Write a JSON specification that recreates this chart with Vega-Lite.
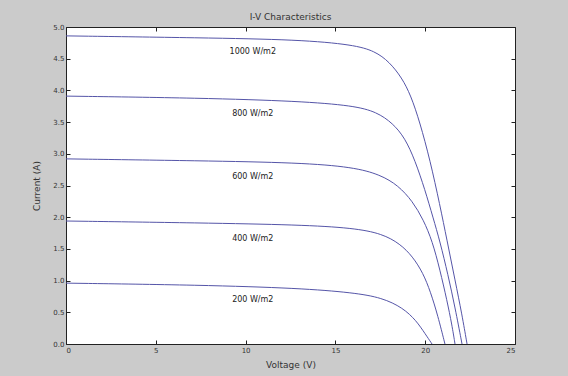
{
  "$schema": "https://vega.github.io/schema/vega-lite/v6.json",
  "width": 449,
  "height": 317,
  "autosize": {"type": "none"},
  "padding": {"left": 66, "top": 27, "right": 53, "bottom": 32},
  "background": "#cbcbcb",
  "config": {
    "view": {"fill": "white", "stroke": "#222", "strokeWidth": 1},
    "font": "DejaVu Sans",
    "axis": {"domainColor": "#222", "tickColor": "#222", "labelColor": "#333", "titleColor": "#333", "labelFontSize": 7, "titleFontSize": 9, "titleFontWeight": "normal", "grid": false, "labelFont": "DejaVu Sans", "titleFont": "DejaVu Sans"}
  },
  "title": {"text": "I-V Characteristics", "fontSize": 9, "fontWeight": "normal", "color": "#333", "offset": 1, "font": "DejaVu Sans"},
  "datasets": {
    "curves": [
      {"curve": "1000", "V": 0, "I": 4.86},
      {"curve": "1000", "V": 7.46, "I": 4.83},
      {"curve": "1000", "V": 13.0, "I": 4.8},
      {"curve": "1000", "V": 16.0, "I": 4.72},
      {"curve": "1000", "V": 17.2, "I": 4.62},
      {"curve": "1000", "V": 18.0, "I": 4.45},
      {"curve": "1000", "V": 18.7, "I": 4.2},
      {"curve": "1000", "V": 19.2, "I": 3.92},
      {"curve": "1000", "V": 19.7, "I": 3.5},
      {"curve": "1000", "V": 20.27, "I": 2.9},
      {"curve": "1000", "V": 20.82, "I": 2.19},
      {"curve": "1000", "V": 21.21, "I": 1.64},
      {"curve": "1000", "V": 21.66, "I": 1.01},
      {"curve": "1000", "V": 22.05, "I": 0.46},
      {"curve": "1000", "V": 22.33, "I": 0},
      {"curve": "800", "V": 0, "I": 3.91},
      {"curve": "800", "V": 7.46, "I": 3.88},
      {"curve": "800", "V": 13.0, "I": 3.83},
      {"curve": "800", "V": 16.0, "I": 3.76},
      {"curve": "800", "V": 17.3, "I": 3.66},
      {"curve": "800", "V": 18.2, "I": 3.48},
      {"curve": "800", "V": 18.87, "I": 3.25},
      {"curve": "800", "V": 19.43, "I": 2.9},
      {"curve": "800", "V": 19.99, "I": 2.43},
      {"curve": "800", "V": 20.44, "I": 1.99},
      {"curve": "800", "V": 20.82, "I": 1.62},
      {"curve": "800", "V": 21.27, "I": 1.09},
      {"curve": "800", "V": 21.66, "I": 0.58},
      {"curve": "800", "V": 22.05, "I": 0},
      {"curve": "600", "V": 0, "I": 2.92},
      {"curve": "600", "V": 7.46, "I": 2.89},
      {"curve": "600", "V": 13.0, "I": 2.86},
      {"curve": "600", "V": 16.0, "I": 2.79},
      {"curve": "600", "V": 17.5, "I": 2.67},
      {"curve": "600", "V": 18.5, "I": 2.5},
      {"curve": "600", "V": 19.3, "I": 2.25},
      {"curve": "600", "V": 19.9, "I": 1.96},
      {"curve": "600", "V": 20.4, "I": 1.62},
      {"curve": "600", "V": 20.82, "I": 1.17},
      {"curve": "600", "V": 21.21, "I": 0.69},
      {"curve": "600", "V": 21.49, "I": 0.3},
      {"curve": "600", "V": 21.66, "I": 0},
      {"curve": "400", "V": 0, "I": 1.94},
      {"curve": "400", "V": 7.46, "I": 1.91},
      {"curve": "400", "V": 13.0, "I": 1.88},
      {"curve": "400", "V": 16.0, "I": 1.83},
      {"curve": "400", "V": 17.6, "I": 1.74},
      {"curve": "400", "V": 18.6, "I": 1.58},
      {"curve": "400", "V": 19.3, "I": 1.38},
      {"curve": "400", "V": 19.88, "I": 1.12},
      {"curve": "400", "V": 20.3, "I": 0.82},
      {"curve": "400", "V": 20.7, "I": 0.45},
      {"curve": "400", "V": 21.1, "I": 0},
      {"curve": "200", "V": 0, "I": 0.96},
      {"curve": "200", "V": 7.46, "I": 0.93},
      {"curve": "200", "V": 13.0, "I": 0.88},
      {"curve": "200", "V": 16.0, "I": 0.81},
      {"curve": "200", "V": 17.6, "I": 0.73},
      {"curve": "200", "V": 18.76, "I": 0.57},
      {"curve": "200", "V": 19.5, "I": 0.37},
      {"curve": "200", "V": 20.0, "I": 0.16},
      {"curve": "200", "V": 20.38, "I": 0}
    ],
    "labels": [
      {"label": "1000 W/m2", "V": 10.4, "I": 4.61},
      {"label": "800 W/m2", "V": 10.4, "I": 3.62},
      {"label": "600 W/m2", "V": 10.4, "I": 2.63},
      {"label": "400 W/m2", "V": 10.4, "I": 1.66},
      {"label": "200 W/m2", "V": 10.4, "I": 0.7}
    ]
  },
  "layer": [
    {
      "data": {"name": "curves"},
      "mark": {"type": "line", "color": "#5555a8", "strokeWidth": 1, "interpolate": "basis", "clip": true},
      "encoding": {
        "x": {"field": "V", "type": "quantitative", "scale": {"domain": [0, 25], "nice": false, "zero": false},
          "axis": {"title": "Voltage (V)", "values": [0, 5, 10, 15, 20, 25], "tickSize": -4, "labelPadding": 6, "titlePadding": 7, "domain": false}},
        "y": {"field": "I", "type": "quantitative", "scale": {"domain": [0, 5], "nice": false},
          "axis": {"title": "Current (A)", "values": [0, 0.5, 1, 1.5, 2, 2.5, 3, 3.5, 4, 4.5, 5], "tickSize": -4, "labelPadding": 6, "titlePadding": 11, "domain": false}},
        "detail": {"field": "curve", "type": "nominal"}
      }
    },
    {
      "data": {"name": "labels"},
      "mark": {"type": "point", "opacity": 0},
      "encoding": {
        "x": {"field": "V", "type": "quantitative", "axis": {"orient": "top", "labels": false, "title": null, "values": [0, 5, 10, 15, 20, 25], "tickSize": -4, "domain": false}},
        "y": {"field": "I", "type": "quantitative", "axis": {"orient": "right", "labels": false, "title": null, "values": [0, 0.5, 1, 1.5, 2, 2.5, 3, 3.5, 4, 4.5, 5], "tickSize": -4, "domain": false}}
      }
    },
    {
      "data": {"name": "labels"},
      "mark": {"type": "text", "fontSize": 8, "color": "#222", "align": "center", "baseline": "middle"},
      "encoding": {
        "x": {"field": "V", "type": "quantitative", "axis": null},
        "y": {"field": "I", "type": "quantitative", "axis": null},
        "text": {"field": "label", "type": "nominal"}
      }
    }
  ],
  "resolve": {"axis": {"x": "independent", "y": "independent"}}
}
